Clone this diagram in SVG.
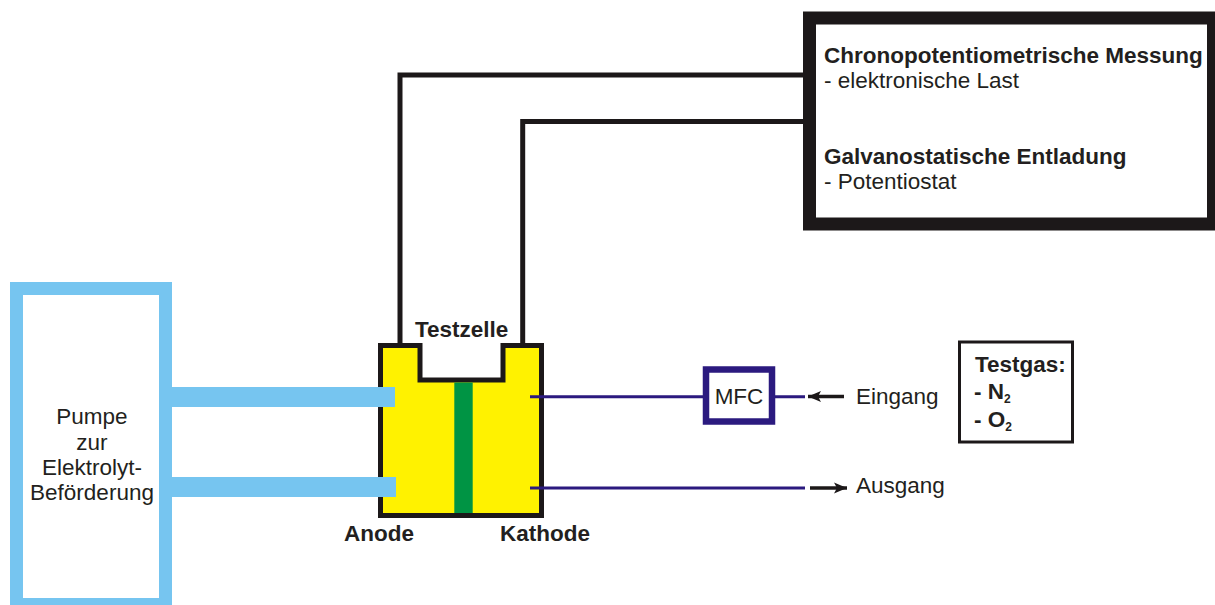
<svg xmlns="http://www.w3.org/2000/svg" width="1215" height="605" viewBox="0 0 1215 605">
<style>
text{font-family:"Liberation Sans",Arial,sans-serif;fill:#231f20;font-size:22.500px}
.b{font-weight:bold}
.s{font-size:12px}
.w{fill:none;stroke:#1c1819;stroke-width:5}
.n{fill:none;stroke:#2b1a7f;stroke-width:3}
.p{fill:#76c5f0}
</style>
<defs>
<marker id="ah" markerUnits="userSpaceOnUse" markerWidth="14" markerHeight="12" refX="13" refY="6" orient="auto-start-reverse"><path d="M0 0.500L13 6L0 11.500L3 6Z" fill="#1c1819"/></marker>
</defs>
<rect width="1215" height="605" fill="#fff"/>
<g id="connectors">
<path class="w" d="M400 345V75H805"/>
<path class="w" d="M522.700 345V121.500H805"/>
<rect class="p" x="172" y="387" width="223" height="20"/>
<rect class="p" x="172" y="477" width="224" height="20"/>
<path d="M844 396.500H808" fill="none" stroke="#1c1819" stroke-width="3.500" marker-end="url(#ah)"/>
<path d="M810 488H847" fill="none" stroke="#1c1819" stroke-width="3.500" marker-end="url(#ah)"/>
</g>
<g id="pump">
<rect x="16.500" y="288.500" width="149" height="316" fill="#fff" stroke="#76c5f0" stroke-width="13"/>
<text x="92" y="424" text-anchor="middle">Pumpe</text>
<text x="92" y="450" text-anchor="middle">zur</text>
<text x="92" y="475" text-anchor="middle">Elektrolyt-</text>
<text x="92" y="500" text-anchor="middle">Beförderung</text>
</g>
<g id="cell">
<path d="M380.500 345.500H420V380H503V345.500H541.500V515.500H380.500Z" fill="#fff200" stroke="#1c1819" stroke-width="5"/>
<rect x="454.300" y="382.500" width="18.400" height="130.500" fill="#009444"/>
<rect class="p" x="370" y="387" width="25" height="20"/>
<rect class="p" x="370" y="477" width="26" height="20"/>
<path class="n" d="M530 396.700H704M775 396.700H805M530 488H805"/>
<text class="b" x="415" y="337">Testzelle</text>
<text class="b" x="344" y="541">Anode</text>
<text class="b" x="500" y="541">Kathode</text>
</g>
<g id="mfc">
<rect x="706" y="369.500" width="66" height="52" fill="#fff" stroke="#2b1a7f" stroke-width="6.500"/>
<text x="739" y="404" text-anchor="middle">MFC</text>
</g>
<g id="eingang"><text x="856" y="404">Eingang</text></g>
<g id="ausgang"><text x="856" y="493">Ausgang</text></g>
<g id="testgas">
<rect x="959.500" y="342" width="113" height="100" fill="#fff" stroke="#1c1819" stroke-width="3"/>
<text class="b" x="975" y="372">Testgas:</text>
<text class="b" x="974" y="399">- N<tspan class="s" dy="4">2</tspan></text>
<text class="b" x="974" y="427">- O<tspan class="s" dy="4">2</tspan></text>
</g>
<g id="messung">
<rect x="809.500" y="18" width="404" height="206" fill="#fff" stroke="#1c1819" stroke-width="13"/>
<text class="b" x="824" y="63">Chronopotentiometrische Messung</text>
<text x="824" y="88">- elektronische Last</text>
<text class="b" x="824" y="164">Galvanostatische Entladung</text>
<text x="824" y="189">- Potentiostat</text>
</g>
</svg>
